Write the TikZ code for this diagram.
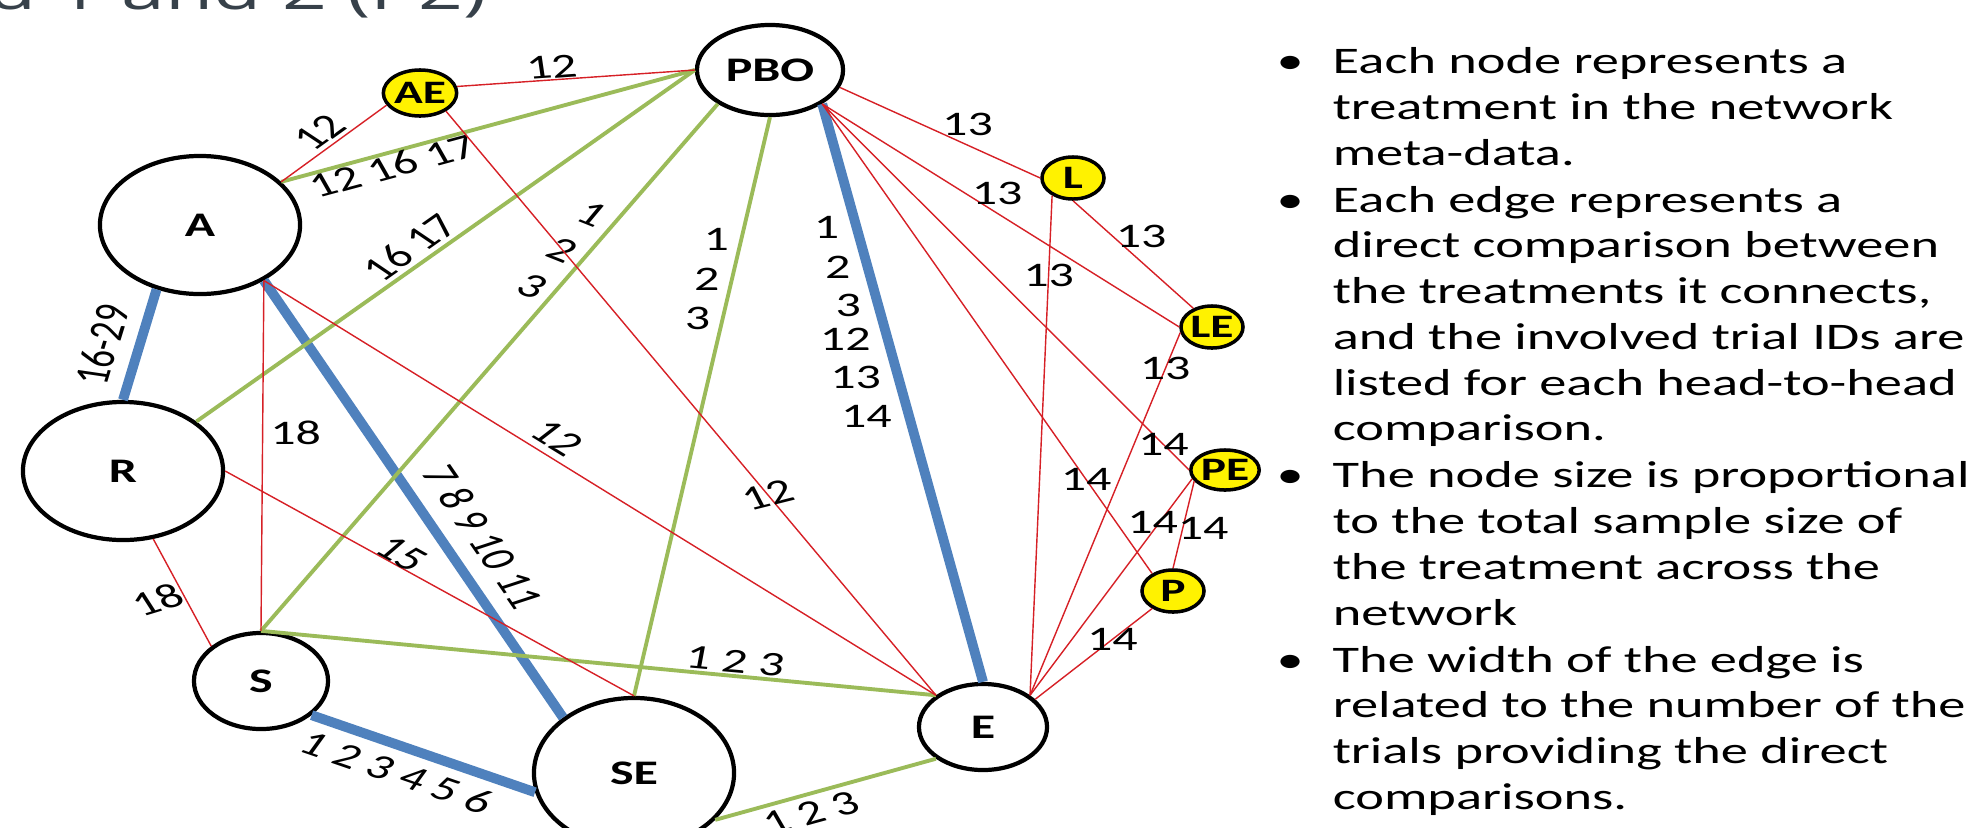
\documentclass[tikz,border=0pt]{standalone}
\usepackage{fontspec}
\setmainfont{Carlito}[FakeStretch=1.45]
\newfontfamily\plainfont{Carlito}
\newfontfamily\headfont{Open Sans}[FakeStretch=1.45]
\usetikzlibrary{positioning,shapes.geometric}
\definecolor{nmablue}{RGB}{79,129,189}
\definecolor{nmagreen}{RGB}{155,187,89}
\definecolor{nmared}{RGB}{214,32,38}
\definecolor{slate}{RGB}{55,65,74}
\tikzset{trt/.style={ellipse,draw,line width=1.2pt,fill=white,inner sep=0pt,font=\bfseries\fontsize{9.8}{11}\selectfont},
         minor/.style={trt,line width=1pt,fill=yellow,font=\bfseries\fontsize{9.3}{10}\selectfont},
         ids/.style={inner sep=1pt,font=\fontsize{9.8}{11.8}\selectfont},
         tilted/.style={inner sep=1pt,font=\plainfont\fontsize{9.8}{11.8}\selectfont,xscale=1.45},
         item/.style={inner sep=0pt,anchor=north west,font=\fontsize{10.67}{13}\selectfont}
}
\tikzstyle{bluelink} = [draw=nmablue,line width=2.8pt]
\tikzstyle{greenlink} = [draw=nmagreen,line width=1.1pt]
\tikzstyle{redlink} = [draw=nmared,line width=0.4pt]
\newcommand{\bul}{\makebox[0.62cm][l]{\hspace{0.06cm}\textbullet}}

\begin{document}
\begin{tikzpicture}[x=0.01cm,y=0.01cm]
\useasboundingbox (0,0) rectangle (1985,-827);

\node[anchor=base east,inner sep=0pt,text=slate,font=\headfont\fontsize{15.4}{18}\selectfont] (title) at (487,-9) {d 1 and 2 (P2)};

% treatments
\node[trt,minimum width=2cm,minimum height=1.38cm] (A) at (200,-225) {A};
\node[trt,minimum width=2cm,minimum height=1.38cm] (R) at (123,-471) {R};
\node[trt,minimum width=1.34cm,minimum height=0.96cm] (S) at (261,-681) {S};
\node[trt,minimum width=2cm,minimum height=1.5cm] (SE) at (634,-773) {SE};
\node[trt,minimum width=1.28cm,minimum height=0.86cm] (E) at (983,-727) {E};
\node[trt,minimum width=1.46cm,minimum height=0.9cm] (PBO) at (770,-70) {PBO};
\node[minor,minimum width=0.72cm,minimum height=0.46cm] (AE) at (420,-93) {AE};
\node[minor,minimum width=0.62cm,minimum height=0.42cm] (L) at (1073,-178) {L};
\node[minor,minimum width=0.62cm,minimum height=0.42cm] (LE) at (1212,-327) {LE};
\node[minor,minimum width=0.62cm,minimum height=0.40cm] (PE) at (1225,-470) {PE};
\node[minor,minimum width=0.62cm,minimum height=0.42cm] (P) at (1173,-591) {P};

% comparisons with many trials
\draw[bluelink] (A.236) -- node[pos=.52,shift={(-37,2)},tilted,rotate=78] {16-29} (R.north);
\draw[bluelink] (A.-41) -- node[pos=.63,shift={(31,19)},tilted,rotate=-64.6] {7 8 9 10 11} (SE.142);
\draw[bluelink] (S.-34) -- node[pos=.42,shift={(-8,-25)},tilted,rotate=-26.5] {1 2 3 4 5 6} (SE.191);
\draw[bluelink] (PBO.-33) -- (E.north)
  foreach \t/\p in {1/.213,2/.282,3/.348,12/.408,13/.473,14/.54} {node[ids,pos=\p,left=2.5pt] {\t}};

% comparisons with three trials
\draw[greenlink] (A.28) -- node[pos=.265,shift={(2,-14)},tilted,rotate=21.4] {12 16 17} (PBO.west);
\draw[greenlink] (R.34) -- node[pos=.45,shift={(-11,16)},tilted,rotate=45.6] {16 17} (PBO.west);
\draw[greenlink] (S.north) -- node[pos=.696,shift={(-16.5,14)},tilted,rotate=-30,align=center] {1\\2\\3} (PBO.213);
\draw[greenlink] (PBO.south) -- (SE.north)
  foreach \t/\p in {1/.211,2/.28,3/.348} {node[ids,pos=\p,left=2pt] {\t}};
\draw[greenlink] (S.north) -- node[pos=.703,shift={(0,15)},tilted,rotate=-7.3] {1 2 3} (E.146);
\draw[greenlink] (SE.-30) -- node[pos=.39,shift={(10,-17)},tilted,rotate=21.7] {1 2 3} (E.214);

% single trials
\draw[redlink] (AE.10) -- node[pos=.4,shift={(0,13)},tilted,rotate=5.8] {12} (PBO.west);
\draw[redlink] (A.28) -- node[pos=.46,shift={(-10,14)},tilted,rotate=46.2] {12} (AE.200);
\draw[redlink] (AE.-35) -- node[pos=.657,tilted,rotate=19.9] {12} (E.146);
\draw[redlink] (A.-41) -- node[pos=.437,shift={(0,24)},tilted,rotate=-41.7] {12} (E.146);
\draw[redlink] (A.-41) -- node[ids,pos=.435,right=1pt] {18} (S.north);
\draw[redlink] (R.-66) -- node[pos=.57,shift={(-29,0)},tilted,rotate=23.9] {18} (S.145);
\draw[redlink] (R.east) -- node[pos=.432,shift={(0,14)},tilted,rotate=-38.7] {15} (SE.north);
\draw[redlink] (PBO.-14) -- node[ids,pos=.637,above=1.6pt] {13} (L.west);
\draw[redlink] (PBO.-33) -- node[ids,pos=.49,above=1.3pt] {13} (LE.west);
\draw[redlink] (L.south) -- node[ids,pos=.566,above=2.7pt] {13} (LE.135);
\draw[redlink] (L.-140) -- node[ids,pos=.16] {13} (E.34);
\draw[redlink] (LE.190) -- node[ids,pos=.1] {13} (E.34);
\draw[redlink] (PBO.-33) -- node[ids,pos=.93] {14} (PE.west);
\draw[redlink] (PBO.-33) -- node[ids,pos=.8] {14} (P.140);
\draw[redlink] (PE.195) -- node[ids,pos=.2,xshift=-2pt] {14} (E.34);
\draw[redlink] (PE.200) -- node[ids,pos=.54,xshift=5.8pt] {14} (P.north);
\draw[redlink] (P.220) -- node[ids,pos=.34] {14} (E.28);

% legend
\node[item] (nodes) at (1270,-41) {\begin{tabular}{@{}l@{}l@{}}
\bul & Each node represents a\\
 & treatment in the network\\
 & meta-data.\end{tabular}};
\node[item,below=0pt of nodes.south west,anchor=north west] (edges) {\begin{tabular}{@{}l@{}l@{}}
\bul & Each edge represents a\\
 & direct comparison between\\
 & the treatments it connects,\\
 & and the involved trial IDs are\\
 & listed for each head-to-head\\
 & comparison.\end{tabular}};
\node[item,below=0pt of edges.south west,anchor=north west] (size) {\begin{tabular}{@{}l@{}l@{}}
\bul & The node size is proportional\\
 & to the total sample size of\\
 & the treatment across the\\
 & network\end{tabular}};
\node[item,below=0pt of size.south west,anchor=north west] (width) {\begin{tabular}{@{}l@{}l@{}}
\bul & The width of the edge is\\
 & related to the number of the\\
 & trials providing the direct\\
 & comparisons.\end{tabular}};

\end{tikzpicture}
\end{document}
